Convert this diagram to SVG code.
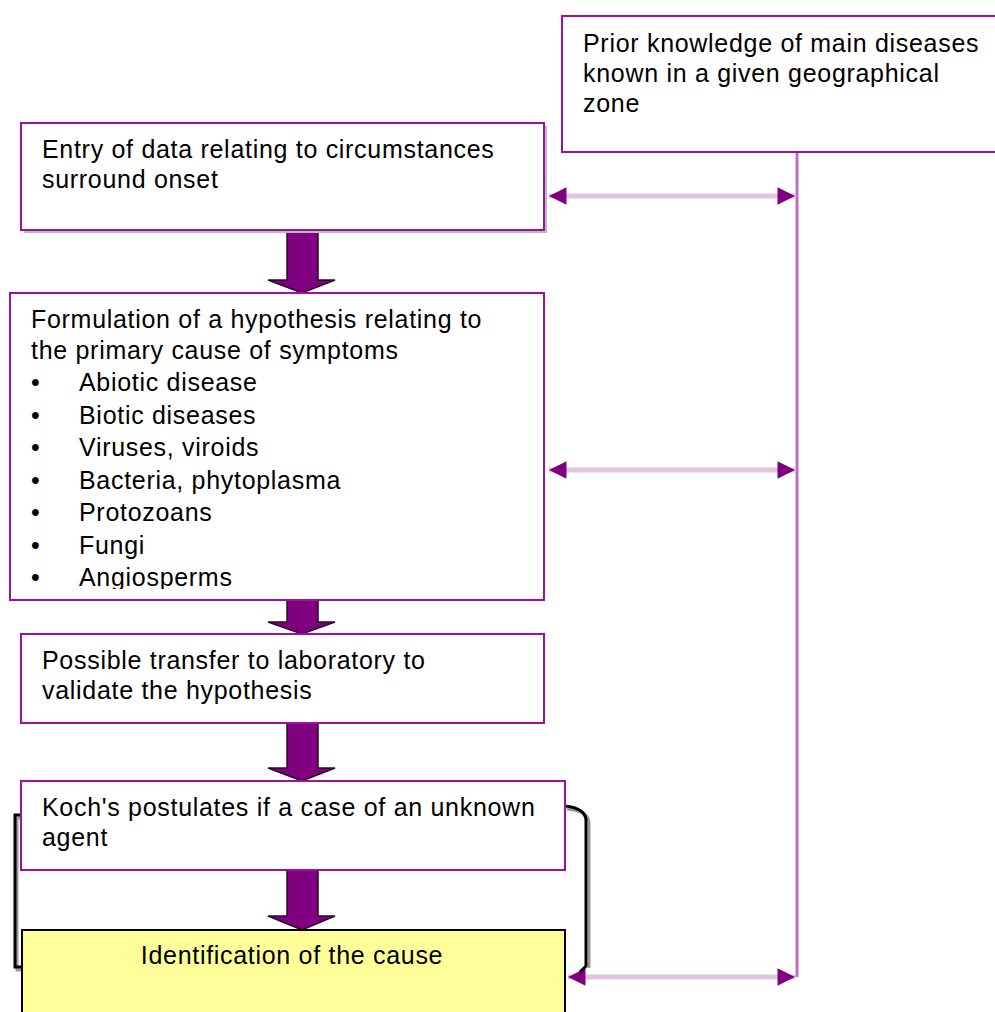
<svg xmlns="http://www.w3.org/2000/svg" width="995" height="1012" viewBox="0 0 995 1012">
<style>
.box{fill:#fff;stroke:#a010a0;stroke-width:2}
.t{font-family:"Liberation Sans",Arial,sans-serif;font-size:25px;letter-spacing:0.7px;fill:#000}
.link{stroke:#e2c4e2;stroke-width:5;fill:none}
.blk{fill:#800080;stroke:#2a0a2a;stroke-width:1.5}
.br{fill:none;stroke:#000;stroke-width:3}
.brs{fill:none;stroke:#999;stroke-width:3}
</style>
<defs>
<marker id="ah" viewBox="0 0 10 10" refX="10" refY="5" markerWidth="4" markerHeight="3.5" orient="auto-start-reverse" markerUnits="strokeWidth">
<path d="M0,0 L10,5 L0,10 z" fill="#800080"/>
</marker>
<clipPath id="c2"><rect x="10" y="293" width="534" height="296"/></clipPath>
</defs>
<rect width="995" height="1012" fill="#fff"/>
<g id="connectors">
<line x1="797" y1="152" x2="797" y2="977" stroke="#c070c0" stroke-width="3"/>
<line class="link" x1="549" y1="196" x2="795" y2="196" marker-start="url(#ah)" marker-end="url(#ah)"/>
<line class="link" x1="549" y1="470" x2="795" y2="470" marker-start="url(#ah)" marker-end="url(#ah)"/>
<line class="link" x1="568" y1="977" x2="795" y2="977" marker-start="url(#ah)" marker-end="url(#ah)"/>
<path class="blk" d="M287,232 H318 V280 H335 L302,293 L268,280 H287 Z"/>
<path class="blk" d="M287,600 H318 V622 H335 L302,634 L268,622 H287 Z"/>
<path class="blk" d="M287,723 H318 V768 H335 L302,781 L268,768 H287 Z"/>
<path class="blk" d="M287,870 H318 V916 H335 L302,930 L268,916 H287 Z"/>
<path class="brs" d="M22,818 H17 V970 H22"/>
<path class="br" d="M21,815 H15 V967 H21"/>
<path class="brs" d="M567,809 Q589,811 589,823 V968"/>
<path class="br" d="M565,806 Q585,808 586,820 V966 L580,972"/>
</g>
<g id="n0">
<rect class="box" x="562" y="16" width="440" height="136"/>
<text class="t" x="583" y="52">Prior knowledge of main diseases</text>
<text class="t" x="583" y="82">known in a given geographical</text>
<text class="t" x="583" y="112">zone</text>
</g>
<g id="n1">
<rect x="24" y="126" width="523" height="107" fill="#bbb"/>
<rect class="box" x="21" y="123" width="523" height="107"/>
<text class="t" x="42" y="158">Entry of data relating to circumstances</text>
<text class="t" x="42" y="188">surround onset</text>
</g>
<g id="n2">
<rect class="box" x="10" y="293" width="534" height="307"/>
<g clip-path="url(#c2)">
<text class="t" x="31" y="328">Formulation of a hypothesis relating to</text>
<text class="t" x="31" y="359">the primary cause of symptoms</text>
<g class="t">
<text x="31" y="391">•</text><text x="79" y="391">Abiotic disease</text>
<text x="31" y="424">•</text><text x="79" y="424">Biotic diseases</text>
<text x="31" y="456">•</text><text x="79" y="456">Viruses, viroids</text>
<text x="31" y="489">•</text><text x="79" y="489">Bacteria, phytoplasma</text>
<text x="31" y="521">•</text><text x="79" y="521">Protozoans</text>
<text x="31" y="554">•</text><text x="79" y="554">Fungi</text>
<text x="31" y="586">•</text><text x="79" y="586">Angiosperms</text>
</g>
</g>
</g>
<g id="n3">
<rect class="box" x="21" y="634" width="523" height="89"/>
<text class="t" x="42" y="669">Possible transfer to laboratory to</text>
<text class="t" x="42" y="699">validate the hypothesis</text>
</g>
<g id="n4">
<rect class="box" x="21" y="781" width="544" height="89"/>
<text class="t" x="42" y="816">Koch's postulates if a case of an unknown</text>
<text class="t" x="42" y="846">agent</text>
</g>
<g id="n5">
<rect x="22" y="930" width="543" height="90" fill="#ffff99" stroke="#000" stroke-width="2"/>
<text class="t" x="292" y="964" text-anchor="middle">Identification of the cause</text>
</g>
</svg>
